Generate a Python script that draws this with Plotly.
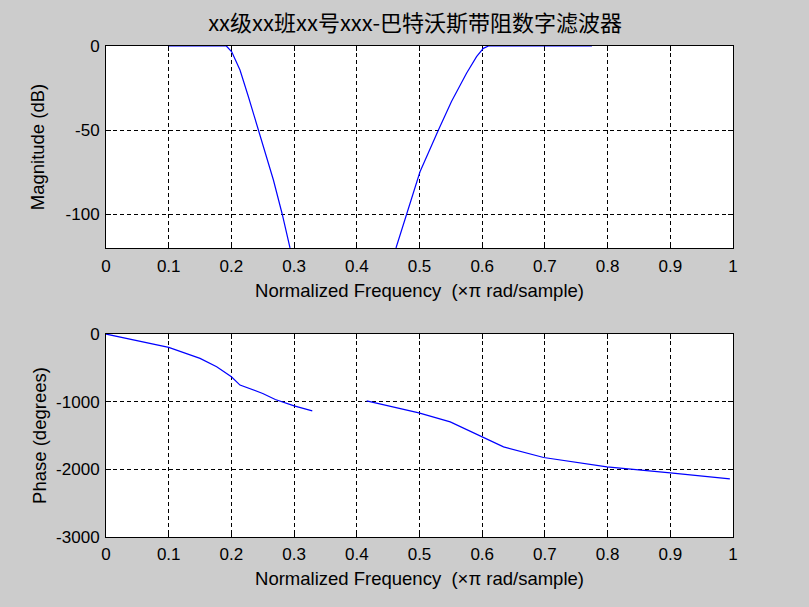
import plotly.graph_objects as go

# ---- data ----
mag_freq_1 = [0.10, 0.15, 0.192, 0.2005, 0.2137, 0.227, 0.243, 0.2536, 0.267, 0.281, 0.2935]
mag_db_1 = [0, 0, 0, -3.4, -14.3, -30, -50, -62.8, -79.6, -99.8, -120]
mag_freq_2 = [0.4625, 0.4796, 0.5008, 0.530, 0.551, 0.575, 0.591, 0.6018, 0.61, 0.70, 0.775]
mag_db_2 = [-120, -99.8, -74.7, -50, -33, -16.2, -6.3, -1.4, 0, 0, 0]

ph_freq_1 = [0.0, 0.05, 0.10, 0.15, 0.1765, 0.20, 0.2137, 0.25, 0.27, 0.30, 0.329]
ph_deg_1 = [0, -95, -197, -360, -484, -632, -755, -878, -967, -1061, -1135]
ph_freq_2 = [0.4157, 0.499, 0.549, 0.599, 0.634, 0.698, 0.799, 0.90, 0.995]
ph_deg_2 = [-987, -1165, -1298, -1510, -1668, -1825, -1964, -2053, -2142]

x_ticks = [0, 0.1, 0.2, 0.3, 0.4, 0.5, 0.6, 0.7, 0.8, 0.9, 1]
x_labels = ["0", "0.1", "0.2", "0.3", "0.4", "0.5", "0.6", "0.7", "0.8", "0.9", "1"]
mag_ticks = [-100, -50, 0]
mag_labels = ["-100", "-50", "0"]
ph_ticks = [-3000, -2000, -1000, 0]
ph_labels = ["-3000", "-2000", "-1000", "0"]

title_text = "xx级xx班xx号xxx-巴特沃斯带阻数字滤波器"
x_title = "Normalized Frequency  (×π rad/sample)"

BLUE = "#0000ff"
FONT = "Liberation Sans, Arial, Noto Sans CJK SC, sans-serif"

fig = go.Figure()
for fx, fy in [(mag_freq_1, mag_db_1), (mag_freq_2, mag_db_2)]:
    fig.add_trace(go.Scatter(x=fx, y=fy, mode="lines", line=dict(color=BLUE, width=1.2),
                             xaxis="x", yaxis="y", showlegend=False, cliponaxis=False))
for fx, fy in [(ph_freq_1, ph_deg_1), (ph_freq_2, ph_deg_2)]:
    fig.add_trace(go.Scatter(x=fx, y=fy, mode="lines", line=dict(color=BLUE, width=1.2),
                             xaxis="x2", yaxis="y2", showlegend=False))

axis_common = dict(
    showline=True, linecolor="black", linewidth=1, mirror="ticks",
    ticks="inside", ticklen=5, tickcolor="black",
    showgrid=True, gridcolor="black", griddash="4px,3px", gridwidth=1,
    zeroline=False, tickfont=dict(family=FONT, size=17, color="black"),
    layer="below traces", automargin=False,
)
title_font = dict(family=FONT, size=18.5, color="black")

fig.update_layout(
    width=809, height=607,
    paper_bgcolor="#cccccc", plot_bgcolor="white",
    margin=dict(l=106, r=76, t=46, b=70),
    font=dict(family=FONT, size=17, color="black"),
    title=dict(text=title_text, x=0.493, xanchor="center", xref="paper",
               y=1 - 23 / 607, yanchor="middle", yref="container",
               font=dict(family="Noto Sans CJK SC, sans-serif", size=22, color="black")),
    xaxis=dict(domain=[0, 1], anchor="y", range=[0, 1], tickvals=x_ticks, ticktext=x_labels,
               ticklabelstandoff=3,
               title=dict(text=x_title, standoff=8, font=title_font), **axis_common),
    yaxis=dict(domain=[0.5886, 1], anchor="x", range=[-120, 0], tickvals=mag_ticks, ticktext=mag_labels,
               ticklabelstandoff=2,
               title=dict(text="Magnitude (dB)", standoff=16, font=title_font), **axis_common),
    xaxis2=dict(domain=[0, 1], anchor="y2", range=[0, 1], tickvals=x_ticks, ticktext=x_labels,
                ticklabelstandoff=2,
                title=dict(text=x_title, standoff=8, font=title_font), **axis_common),
    yaxis2=dict(domain=[0, 0.4134], anchor="x2", range=[-3000, 0], tickvals=ph_ticks, ticktext=ph_labels,
                ticklabelstandoff=2,
                title=dict(text="Phase (degrees)", standoff=4, font=title_font), **axis_common),
)

fig.write_html("out.html", config={"displayModeBar": False},
               post_script="document.body.style.margin='0';")
